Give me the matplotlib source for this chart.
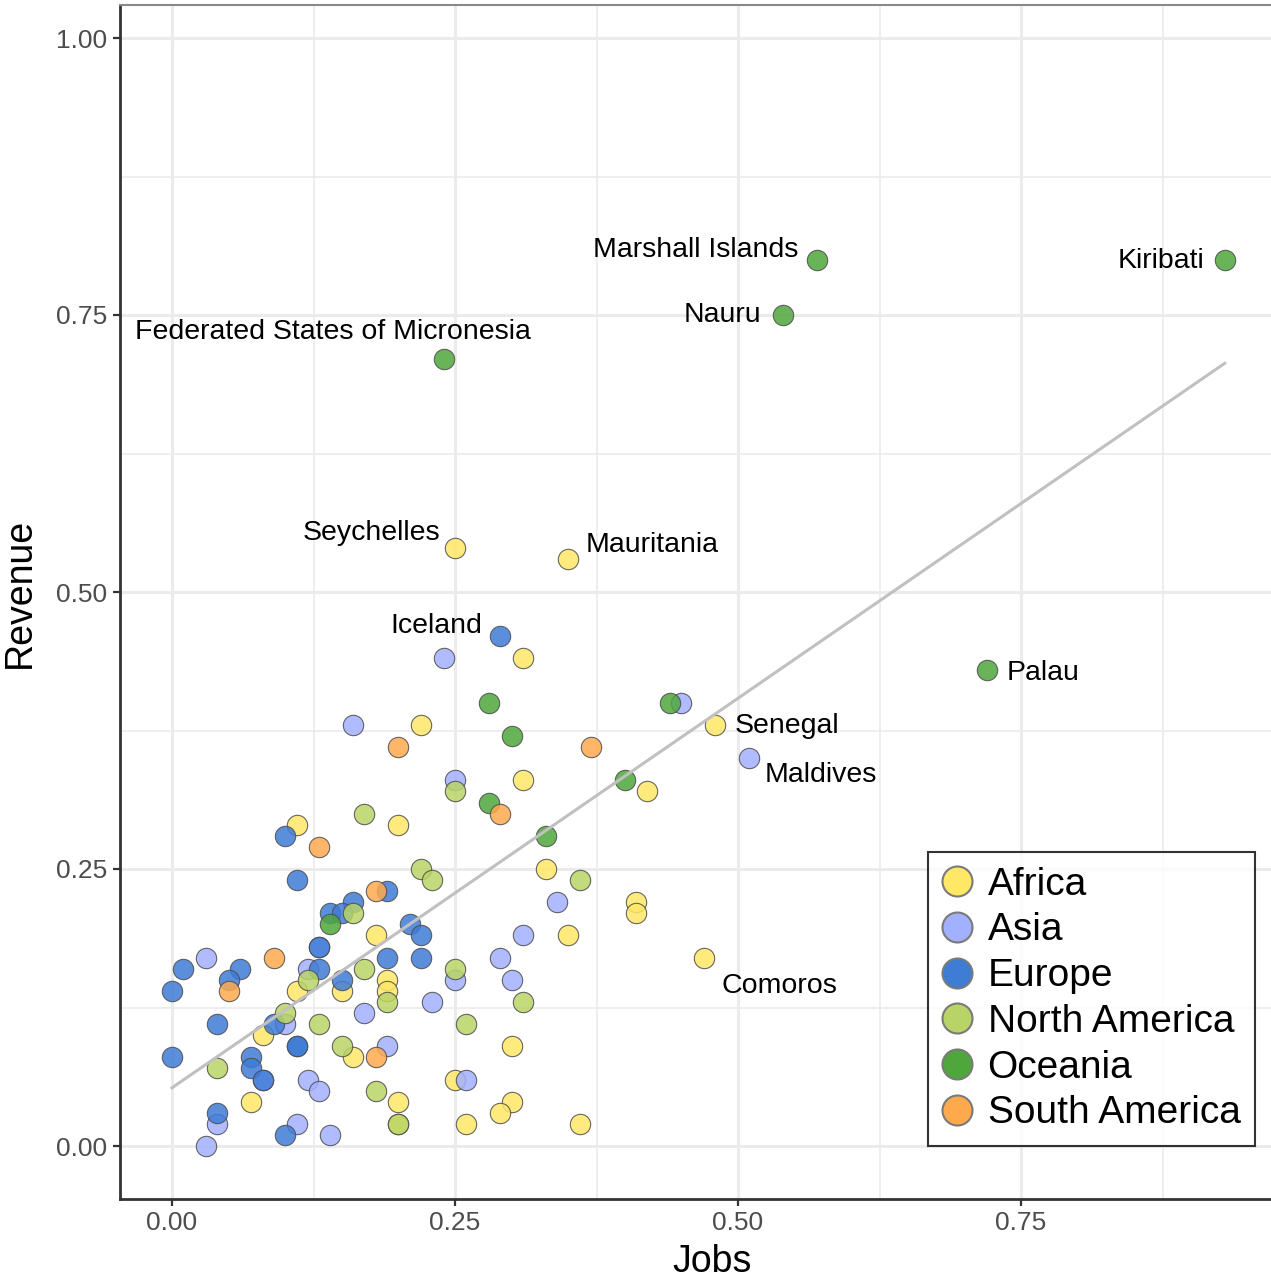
"""Revenue vs jobs by continent, with a linear fit and labelled outliers."""

import numpy as np
import matplotlib.pyplot as plt
from matplotlib.lines import Line2D

plt.rcParams["font.family"] = ["Liberation Sans", "DejaVu Sans"]

# ------------------------------
# Data
# ------------------------------

continents = ["Africa", "Asia", "Europe", "North America", "Oceania", "South America"]

africa_x = [0.25, 0.35, 0.48, 0.47, 0.31, 0.22, 0.31, 0.42, 0.11, 0.20, 0.33, 0.41, 0.41,
            0.18, 0.35, 0.19, 0.19, 0.15, 0.11, 0.08, 0.30, 0.16, 0.25, 0.07, 0.20, 0.30,
            0.29, 0.20, 0.26, 0.36]
africa_y = [0.54, 0.53, 0.38, 0.17, 0.44, 0.38, 0.33, 0.32, 0.29, 0.29, 0.25, 0.22, 0.21,
            0.19, 0.19, 0.15, 0.14, 0.14, 0.14, 0.10, 0.09, 0.08, 0.06, 0.04, 0.04, 0.04,
            0.03, 0.02, 0.02, 0.02]

asia_x = [0.51, 0.45, 0.24, 0.16, 0.25, 0.34, 0.31, 0.29, 0.03, 0.13, 0.12, 0.25, 0.30,
          0.23, 0.17, 0.10, 0.19, 0.08, 0.12, 0.13, 0.26, 0.04, 0.11, 0.14, 0.03]
asia_y = [0.35, 0.40, 0.44, 0.38, 0.33, 0.22, 0.19, 0.17, 0.17, 0.18, 0.16, 0.15, 0.15,
          0.13, 0.12, 0.11, 0.09, 0.06, 0.06, 0.05, 0.06, 0.02, 0.02, 0.01, 0.00]

europe_x = [0.29, 0.10, 0.11, 0.19, 0.16, 0.14, 0.15, 0.21, 0.22, 0.13, 0.19, 0.22, 0.01,
            0.06, 0.13, 0.05, 0.15, 0.00, 0.04, 0.09, 0.11, 0.11, 0.00, 0.07, 0.07, 0.08,
            0.04, 0.10]
europe_y = [0.46, 0.28, 0.24, 0.23, 0.22, 0.21, 0.21, 0.20, 0.19, 0.18, 0.17, 0.17, 0.16,
            0.16, 0.16, 0.15, 0.15, 0.14, 0.11, 0.11, 0.09, 0.09, 0.08, 0.08, 0.07, 0.06,
            0.03, 0.01]

namerica_x = [0.17, 0.25, 0.22, 0.23, 0.36, 0.16, 0.17, 0.25, 0.12, 0.19, 0.31, 0.10,
              0.13, 0.26, 0.15, 0.04, 0.18, 0.20]
namerica_y = [0.30, 0.32, 0.25, 0.24, 0.24, 0.21, 0.16, 0.16, 0.15, 0.13, 0.13, 0.12,
              0.11, 0.11, 0.09, 0.07, 0.05, 0.02]

oceania_x = [0.93, 0.57, 0.54, 0.24, 0.72, 0.28, 0.44, 0.30, 0.40, 0.28, 0.33, 0.14]
oceania_y = [0.80, 0.80, 0.75, 0.71, 0.43, 0.40, 0.40, 0.37, 0.33, 0.31, 0.28, 0.20]

samerica_x = [0.20, 0.37, 0.29, 0.13, 0.18, 0.09, 0.05, 0.18]
samerica_y = [0.36, 0.36, 0.30, 0.27, 0.23, 0.17, 0.14, 0.08]

# labelled countries: name, jobs, revenue
label_names = ["Kiribati", "Marshall Islands", "Nauru", "Federated States of Micronesia",
               "Seychelles", "Mauritania", "Iceland", "Palau", "Senegal", "Maldives",
               "Comoros"]
label_x = [0.93, 0.57, 0.54, 0.24, 0.25, 0.35, 0.29, 0.72, 0.48, 0.51, 0.47]
label_y = [0.80, 0.80, 0.75, 0.71, 0.54, 0.53, 0.46, 0.43, 0.38, 0.35, 0.17]

# ------------------------------
# Styles
# ------------------------------

colors = {
    "Africa": "#FFE866",
    "Asia": "#A2B1FF",
    "Europe": "#3E7CD6",
    "North America": "#B9D466",
    "Oceania": "#4FA73C",
    "South America": "#FFA94D",
}
series = {
    "Africa": (africa_x, africa_y),
    "Asia": (asia_x, asia_y),
    "Europe": (europe_x, europe_y),
    "North America": (namerica_x, namerica_y),
    "Oceania": (oceania_x, oceania_y),
    "South America": (samerica_x, samerica_y),
}
# label placement: (ha, dx px, dy px) relative to the point, baseline aligned
label_place = {
    "Kiribati": ("right", -20, -8),
    "Marshall Islands": ("right", -19, 3),
    "Nauru": ("right", -22, -7),
    "Federated States of Micronesia": ("right", 87, 20),
    "Seychelles": ("right", -15, 8),
    "Mauritania": ("left", 17, 7),
    "Iceland": ("right", -18, 3),
    "Palau": ("left", 20, -10),
    "Senegal": ("left", 19, -8),
    "Maldives": ("left", 15, -24),
    "Comoros": ("left", 17, -35),
}

# ------------------------------
# Plot
# ------------------------------

fig = plt.figure(figsize=(12.71, 12.79), dpi=100)
ax = fig.add_axes([120 / 1271, 1 - 1199 / 1279, 1151 / 1271, 1194 / 1279])

for name in continents:
    xs, ys = series[name]
    ax.scatter(xs, ys, s=215, c=colors[name], alpha=0.85,
               edgecolors="#4d4d4d", linewidths=0.8, zorder=3)

# linear fit over all points
all_x = np.concatenate([np.asarray(series[c][0]) for c in continents])
all_y = np.concatenate([np.asarray(series[c][1]) for c in continents])
slope, intercept = np.polyfit(all_x, all_y, 1)
xx = np.array([all_x.min(), all_x.max()])
ax.plot(xx, intercept + slope * xx, color="#c0c0c0", lw=2.2, zorder=4)

for name, px, py in zip(label_names, label_x, label_y):
    ha, dx, dy = label_place[name]
    ax.annotate(name, (px, py), xytext=(dx, dy), textcoords="offset pixels",
                ha=ha, va="baseline", fontsize=20.5, color="black", zorder=5)

ax.set_xlim((120 - 172) / 1132, (1271 - 172) / 1132)
ax.set_ylim((1146 - 1199) / 1108, (1146 - 5) / 1108)

ticks = [0.00, 0.25, 0.50, 0.75]
ax.set_xticks(ticks)
ax.set_xticklabels([f"{t:.2f}" for t in ticks])
ax.set_yticks(ticks + [1.00])
ax.set_yticklabels([f"{t:.2f}" for t in ticks + [1.00]])
ax.set_xticks([0.125, 0.375, 0.625, 0.875], minor=True)
ax.set_yticks([0.125, 0.375, 0.625, 0.875], minor=True)

ax.grid(which="major", color="#ebebeb", lw=2.2, zorder=0)
ax.grid(which="minor", color="#ebebeb", lw=1.2, zorder=0)
ax.set_axisbelow(True)

ax.tick_params(which="major", length=5, width=1.6, color="#333333",
               labelsize=19, labelcolor="#4d4d4d", pad=4)
ax.tick_params(which="minor", length=0)

for side in ["left", "bottom"]:
    ax.spines[side].set_color("#333333")
    ax.spines[side].set_linewidth(2)
ax.spines["top"].set_color("#8a8a8a")
ax.spines["top"].set_linewidth(1.5)
ax.spines["right"].set_visible(False)

ax.set_xlabel("Jobs", fontsize=27)
ax.set_ylabel("Revenue", fontsize=27)
ax.xaxis.set_label_coords((712 - 120) / 1151, -(1262 - 1199) / 1194)
ax.yaxis.set_label_coords(-(120 - 20) / 1151, (1199 - 593) / 1194)
ax.xaxis.label.set_va("center")
ax.yaxis.label.set_va("center")

handles = [Line2D([], [], ls="", marker="o", markersize=21.6, markerfacecolor=colors[c],
                  markeredgecolor="#7a7a7a", markeredgewidth=1.5) for c in continents]
leg = ax.legend(handles, continents, loc="upper left",
                bbox_to_anchor=((928 - 120) / 1151, (1199 - 852) / 1194),
                borderaxespad=0, fontsize=28, frameon=True, fancybox=False,
                borderpad=0.38, labelspacing=0.25, handlelength=0.75,
                handletextpad=0.4)
leg.get_frame().set_edgecolor("black")
leg.get_frame().set_linewidth(1.5)
leg.set_zorder(6)

fig.savefig("out.png", dpi=100)
